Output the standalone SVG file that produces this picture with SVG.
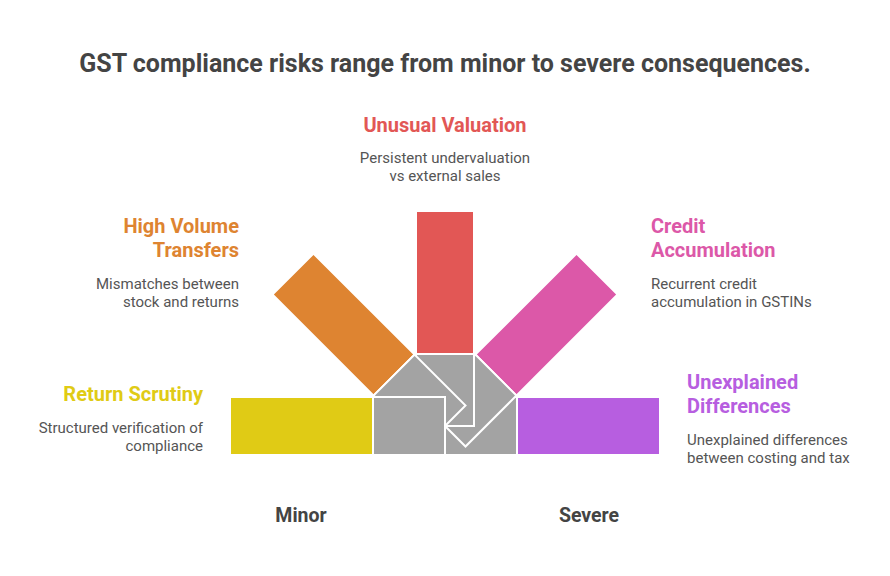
<svg xmlns="http://www.w3.org/2000/svg" width="890" height="576" viewBox="0 0 890 576">
<style>
text{font-family:Roboto,"Liberation Sans",sans-serif}
.title{font-size:25px;font-weight:700;fill:#444}
.h{font-size:20px;font-weight:700}
.d{font-size:15px;fill:#555}
.ax{font-size:19.5px;font-weight:700;fill:#444}
.base{fill:#A3A3A3;stroke:#fff;stroke-width:2}
.bar{stroke:#fff;stroke-width:2}
</style>
<rect width="890" height="576" fill="#fff"/>
<text class="title" x="445" y="72" text-anchor="middle">GST compliance risks range from minor to severe consequences.</text>
<g id="arm-unexplained" transform="rotate(180 445 426)">
<rect class="bar" x="230" y="397" width="143" height="58" fill="#B75EE0"/>
<rect class="base" x="373" y="397" width="72" height="58"/>
</g>
<g id="arm-credit" transform="rotate(135 445 426)">
<rect class="bar" x="230" y="397" width="143" height="58" fill="#DC58A8"/>
<rect class="base" x="373" y="397" width="72" height="58"/>
</g>
<g id="arm-valuation" transform="rotate(90 445 426)">
<rect class="bar" x="230" y="397" width="143" height="58" fill="#E25755"/>
<rect class="base" x="373" y="397" width="72" height="58"/>
</g>
<g id="arm-transfers" transform="rotate(45 445 426)">
<rect class="bar" x="230" y="397" width="143" height="58" fill="#DE8431"/>
<rect class="base" x="373" y="397" width="72" height="58"/>
</g>
<g id="arm-scrutiny">
<rect class="bar" x="230" y="397" width="143" height="58" fill="#E0CB15"/>
<rect class="base" x="373" y="397" width="72" height="58"/>
</g>
<g id="label-valuation" text-anchor="middle">
<text class="h" x="445" y="132" fill="#E25755">Unusual Valuation</text>
<text class="d" x="445" y="163">Persistent undervaluation</text>
<text class="d" x="445" y="181">vs external sales</text>
</g>
<g id="label-transfers" text-anchor="end">
<text class="h" x="239" y="233" fill="#DE8431">High Volume</text>
<text class="h" x="239" y="257" fill="#DE8431">Transfers</text>
<text class="d" x="239" y="289">Mismatches between</text>
<text class="d" x="239" y="307">stock and returns</text>
</g>
<g id="label-credit">
<text class="h" x="651" y="233" fill="#DC58A8">Credit</text>
<text class="h" x="651" y="257" fill="#DC58A8">Accumulation</text>
<text class="d" x="651" y="289">Recurrent credit</text>
<text class="d" x="651" y="307">accumulation in GSTINs</text>
</g>
<g id="label-scrutiny" text-anchor="end">
<text class="h" x="203" y="401" fill="#E0CB15">Return Scrutiny</text>
<text class="d" x="203" y="433">Structured verification of</text>
<text class="d" x="203" y="451">compliance</text>
</g>
<g id="label-unexplained">
<text class="h" x="687" y="389" fill="#B75EE0">Unexplained</text>
<text class="h" x="687" y="413" fill="#B75EE0">Differences</text>
<text class="d" x="687" y="445">Unexplained differences</text>
<text class="d" x="687" y="463">between costing and tax</text>
</g>
<text class="ax" x="301" y="522" text-anchor="middle">Minor</text>
<text class="ax" x="589" y="522" text-anchor="middle">Severe</text>
</svg>
